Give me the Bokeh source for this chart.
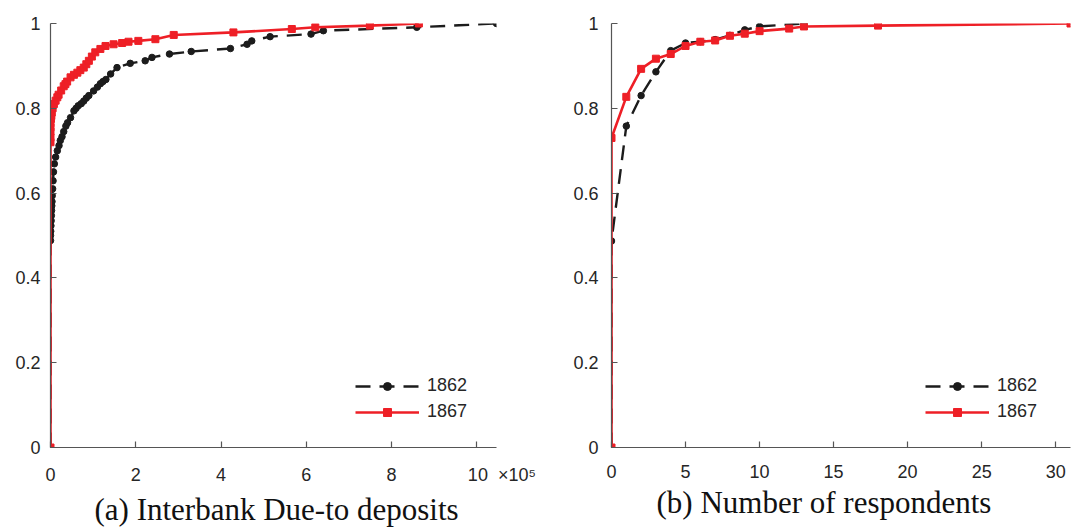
from bokeh.plotting import figure
from bokeh.layouts import row
from bokeh.models import (Range1d, FixedTicker, CustomJSTickFormatter, Legend,
                          LegendItem, Title)
from bokeh.embed import file_html
from bokeh.resources import INLINE

# ---------------- data ----------------
# (a) Interbank Due-to deposits (dollars) - empirical CDF
dep1862_x = [0, 0, 0, 500, 1000, 1500, 2000, 2500, 3000, 3500, 4000, 5000,
             6000, 7000, 9000, 12000, 16000, 20000, 23000, 27000, 31000, 36000,
             40000, 47000, 55000, 60000, 65000, 72000, 78000, 84000, 90000,
             101000, 110000, 117000, 123000, 130000, 141000, 156000, 187000,
             222000, 238000, 279000, 330000, 422000, 461000, 472000, 515000,
             611000, 640000, 859000, 1046000]
dep1862_y = [0, 0.488, 0.50, 0.51, 0.523, 0.535, 0.547, 0.559, 0.57, 0.58,
             0.594, 0.61, 0.629, 0.65, 0.669, 0.685, 0.70, 0.712, 0.724, 0.733,
             0.745, 0.758, 0.766, 0.778, 0.794, 0.80, 0.806, 0.811, 0.817,
             0.824, 0.83, 0.841, 0.85, 0.858, 0.863, 0.868, 0.881, 0.896, 0.906,
             0.912, 0.92, 0.928, 0.934, 0.941, 0.951, 0.959, 0.969, 0.975,
             0.983, 0.991, 1.0]

dep1867_x = [0, 0, 0, 0, 0, 0, 1000, 2000, 3000, 5000, 8000, 12000, 16000,
             19000, 25000, 31000, 35000, 39000, 47000, 55000, 63000, 70000,
             78000, 84000, 90000, 97000, 105000, 117000, 129000, 148000, 168000,
             183000, 206000, 246000, 289000, 429000, 566000, 621000, 749000,
             864000]
dep1867_y = [0, 0.72, 0.731, 0.745, 0.755, 0.765, 0.775, 0.782, 0.79, 0.80,
             0.81, 0.818, 0.826, 0.832, 0.842, 0.852, 0.857, 0.863, 0.873,
             0.879, 0.884, 0.89, 0.896, 0.904, 0.912, 0.922, 0.932, 0.94, 0.947,
             0.951, 0.954, 0.957, 0.959, 0.963, 0.973, 0.979, 0.987, 0.991,
             0.995, 1.0]

# (b) Number of respondents - empirical CDF
resp1862_x = [0, 0, 1, 2, 3, 4, 5, 6, 7, 8, 9, 10, 13]
resp1862_y = [0, 0.487, 0.758, 0.830, 0.886, 0.936, 0.954, 0.957, 0.962,
              0.972, 0.985, 0.993, 1.0]

resp1867_x = [0, 0, 1, 2, 3, 4, 5, 6, 7, 8, 9, 10, 12, 13, 18, 31]
resp1867_y = [0, 0.730, 0.827, 0.893, 0.917, 0.928, 0.947, 0.957, 0.960,
              0.971, 0.976, 0.982, 0.988, 0.993, 0.995, 1.0]

series_labels = ["1862", "1867"]
captions = ["(a) Interbank Due-to deposits", "(b) Number of respondents"]
y_ticks = [0, 0.2, 0.4, 0.6, 0.8, 1.0]
dep_ticks = [0, 200000, 400000, 600000, 800000, 1000000]
resp_ticks = [0, 5, 10, 15, 20, 25, 30]

# ---------------- style ----------------
BLACK = "#1c1c1c"
RED = "#ee1f26"
AX = "#555555"
TXT = "#262626"
FONT = "Liberation Sans"
SERIF = "Liberation Serif"

yfmt = "var s = tick.toFixed(1); if (s.endsWith('.0')) { s = s.slice(0, -2); } return s;"
depfmt = ("var v = Math.round(tick / 100000);"
          "if (v == 10) { return '\\u00a0'.repeat(10) + '10\\u00a0\\u00a0\\u00d710\\u2075'; }"
          "return v.toFixed(0);")


def make_fig(width, xr, ml, mr, mt, mb, xticks, xfmt, ystand):
    p = figure(width=width, height=529, x_range=Range1d(*xr),
               y_range=Range1d(0, 1), output_backend="svg",
               toolbar_location=None, min_border_left=ml, min_border_right=mr,
               min_border_top=mt, min_border_bottom=mb)
    p.grid.visible = False
    p.outline_line_color = None
    p.background_fill_color = "white"
    p.border_fill_color = "white"
    for ax in (p.xaxis[0], p.yaxis[0]):
        ax.axis_line_color = AX
        ax.axis_line_width = 1.2
        ax.major_tick_line_color = AX
        ax.major_tick_line_width = 1.2
        ax.major_tick_in = 6
        ax.major_tick_out = 0
        ax.minor_tick_line_color = None
        ax.major_label_text_font = FONT
        ax.major_label_text_font_size = "18px"
        ax.major_label_text_color = TXT
    p.xaxis[0].ticker = FixedTicker(ticks=xticks)
    p.xaxis[0].formatter = CustomJSTickFormatter(code=xfmt)
    p.xaxis[0].major_label_standoff = 17
    p.yaxis[0].ticker = FixedTicker(ticks=y_ticks)
    p.yaxis[0].formatter = CustomJSTickFormatter(code=yfmt)
    p.yaxis[0].major_label_standoff = ystand
    return p


def add_series(p, xa, ya, xb, yb, loc):
    l1 = p.line(xa, ya, line_color=BLACK, line_width=2.4, line_dash="15 9")
    s1 = p.scatter(xa, ya, marker="circle", size=6.5, fill_color=BLACK,
                   line_color=BLACK)
    l2 = p.line(xb, yb, line_color=RED, line_width=2.6)
    s2 = p.scatter(xb, yb, marker="square", size=7, fill_color=RED,
                   line_color=RED)
    leg = Legend(items=[LegendItem(label=series_labels[0], renderers=[l1, s1]),
                        LegendItem(label=series_labels[1], renderers=[l2, s2])],
                 location=loc, glyph_width=64, glyph_height=20,
                 label_standoff=8, spacing=5, padding=0, margin=0,
                 border_line_color=None, background_fill_alpha=0,
                 label_text_font=FONT, label_text_font_size="18px",
                 label_text_color=TXT)
    p.add_layout(leg)


def caption(p, text, offset):
    p.add_layout(Title(text=text, align="left", offset=offset,
                       text_font=SERIF, text_font_size="31px",
                       text_font_style="normal", text_color="#111111",
                       standoff=5), "below")


p1 = make_fig(570, (0, 1046000), 50, 74, 23, 82, dep_ticks, depfmt, 10)
add_series(p1, dep1862_x, dep1862_y, dep1867_x, dep1867_y, (305, 25))
caption(p1, captions[0], 44)

p2 = make_fig(503, (0, 31), 41, 3, 12, 81, resp_ticks,
              "return tick.toFixed(0);", 13)
add_series(p2, resp1862_x, resp1862_y, resp1867_x, resp1867_y, (314, 25))
caption(p2, captions[1], 45)

layout = row(p1, p2, spacing=0)
open("out.html", "w").write(file_html(layout, INLINE))
